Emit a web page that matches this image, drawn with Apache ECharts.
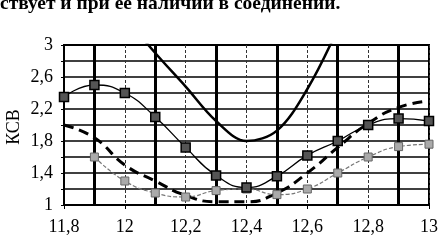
<!DOCTYPE html>
<html>
<head>
<meta charset="utf-8">
<script src="https://cdn.jsdelivr.net/npm/echarts@6/dist/echarts.min.js"></script>
<style>html,body{margin:0;padding:0;background:#fff}#c{width:441px;height:244px}</style>
</head>
<body>
<div id="c"></div>
<script>
var freq = [11.8, 11.9, 12.0, 12.1, 12.2, 12.3, 12.4, 12.5, 12.6, 12.7, 12.8, 12.9, 13.0];
var squareSeries = [2.35, 2.5, 2.4, 2.1, 1.72, 1.37, 1.22, 1.36, 1.62, 1.8, 2.0, 2.08, 2.05];
var crossSeries = [null, 1.6, 1.3, 1.15, 1.1, 1.18, 1.2, 1.13, 1.2, 1.4, 1.6, 1.73, 1.76];
var dashedSeries = [2.0, 1.84, 1.5, 1.3, 1.12, 1.04, 1.04, 1.15, 1.4, 1.72, 2.02, 2.22, 2.3];
var solidSeries = [null, null, 3.35, 2.9, 2.48, 2.05, 1.8, 1.93, 2.45, 3.2, null, null, null];
var yTicks = [1, 1.4, 1.8, 2.2, 2.6, 3];
var xTicks = [11.8, 12, 12.2, 12.4, 12.6, 12.8, 13];
var headerText = 'ствует и при ее наличии в соединении.';
var yName = 'КСВ';

function pairs(arr) {
  var out = [];
  for (var i = 0; i < freq.length; i++) {
    if (arr[i] !== null) out.push([freq[i], arr[i]]);
  }
  return out;
}
function fmt(v) { return String(+v.toFixed(2)).replace('.', ','); }

var font = 'Liberation Serif';
var chart = echarts.init(document.getElementById('c'), null, {renderer: 'canvas'});
chart.setOption({
  animation: false,
  backgroundColor: '#fff',
  grid: {left: 64, right: 8, top: 45, bottom: 39, show: true, borderColor: '#000', borderWidth: 2, backgroundColor: 'transparent'},
  graphic: [
    {type: 'text', left: 0, top: -6, style: {text: headerText, fontFamily: font, fontSize: 19.5, fontWeight: 'bold', fill: '#000'}},
    {type: 'text', x: 14, y: 127, rotation: Math.PI / 2, style: {text: yName, fontFamily: font, fontSize: 18, fill: '#000', align: 'center', verticalAlign: 'middle'}}
  ],
  xAxis: {
    type: 'value', min: 11.8, max: 13, interval: 0.2,
    axisLine: {show: true, lineStyle: {color: '#000', width: 2}},
    axisTick: {show: true, length: 4, lineStyle: {color: '#000', width: 1}},
    minorTick: {show: false, splitNumber: 2},
    axisLabel: {
      color: '#000', fontFamily: font, fontSize: 18, margin: 13, showMaxLabel: true,
      formatter: function (v) {
        for (var i = 0; i < xTicks.length; i++) if (Math.abs(xTicks[i] - v) < 1e-6) return fmt(xTicks[i]);
        return '';
      }
    },
    splitLine: {show: true, lineStyle: {color: '#333', width: 1, type: [3, 2]}},
    minorSplitLine: {show: true, lineStyle: {color: '#000', width: 3}}
  },
  yAxis: {
    type: 'value', min: 1, max: 3, interval: 0.2,
    axisLine: {show: true, lineStyle: {color: '#000', width: 2}},
    axisTick: {show: true, length: 3, lineStyle: {color: '#000'}},
    axisLabel: {
      color: '#000', fontFamily: font, fontSize: 18, margin: 11,
      formatter: function (v) {
        for (var i = 0; i < yTicks.length; i++) if (Math.abs(yTicks[i] - v) < 1e-6) return fmt(yTicks[i]);
        return '';
      }
    },
    splitLine: {show: true, lineStyle: {color: '#000', width: 1.5}}
  },
  series: [
    {type: 'line', data: pairs(solidSeries), smooth: 0.35, symbol: 'none', clip: true,
     lineStyle: {color: '#000', width: 2.5}},
    {type: 'line', data: pairs(dashedSeries), smooth: 0.5, symbol: 'none', clip: true,
     lineStyle: {color: '#000', width: 3, type: [10, 6]}},
    {type: 'line', data: pairs(crossSeries), smooth: 0.5, symbol: 'rect', symbolSize: 8, clip: true,
     lineStyle: {color: '#777', width: 1.2, type: [4, 2]},
     itemStyle: {color: '#aaa', borderColor: '#666', borderWidth: 1}},
    {type: 'line', data: pairs(squareSeries), smooth: 0.5, symbol: 'rect', symbolSize: 9, clip: true,
     lineStyle: {color: '#000', width: 1.3},
     itemStyle: {color: '#555', borderColor: '#000', borderWidth: 1.5}}
  ]
});
</script>
</body>
</html>
